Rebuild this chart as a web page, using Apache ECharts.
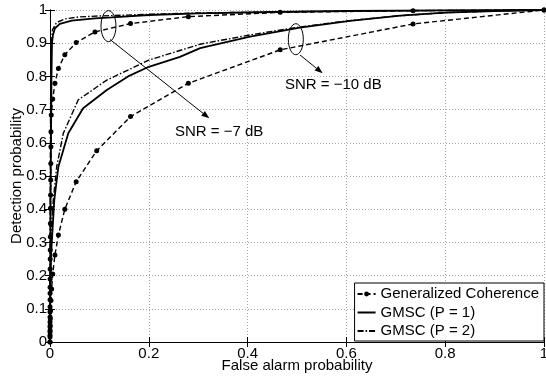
<!DOCTYPE html>
<html><head><meta charset="utf-8">
<script src="https://cdn.jsdelivr.net/npm/echarts@6/dist/echarts.min.js"></script>
<style>html,body{margin:0;padding:0;background:#fff}#c{width:546px;height:376px}</style>
</head><body><div id="c"></div><script>
// ---- data ----
const xTicks = [0, 0.2, 0.4, 0.6, 0.8, 1];
const yTicks = [0, 0.1, 0.2, 0.3, 0.4, 0.5, 0.6, 0.7, 0.8, 0.9, 1];
const seriesNames = ['Generalized Coherence', 'GMSC (P = 1)', 'GMSC (P = 2)'];

// SNR = -7 dB
const gc7 = [[0,0],[0,0.015],[0.00001,0.03],[0.00002,0.045],[0.00003,0.06],[0.00004,0.075],[0.00006,0.09],[0.00008,0.106],[0.0001,0.127],[0.00013,0.147],[0.00017,0.165],[0.00022,0.19],[0.0003,0.22],[0.0004,0.25],[0.0005,0.277],[0.0006,0.317],[0.0008,0.357],[0.001,0.403],[0.0012,0.443],[0.0014,0.488],[0.0016,0.538],[0.0018,0.588],[0.002,0.633],[0.0025,0.684],[0.0055,0.732],[0.010,0.779],[0.017,0.824],[0.030,0.865],[0.053,0.902],[0.091,0.934],[0.163,0.959],[0.28,0.980],[0.466,0.993],[0.735,0.998],[1,1]];
const gmsc1_7 = [[0,0],[0.0005,0.2],[0.001,0.4],[0.002,0.6],[0.003,0.8],[0.004,0.9],[0.006,0.925],[0.010,0.945],[0.02,0.958],[0.044,0.968],[0.091,0.975],[0.125,0.978],[0.2,0.985],[0.3,0.99],[0.45,0.994],[0.6,0.997],[0.8,0.999],[1,1]];
const gmsc2_7 = [[0,0],[0.0003,0.3],[0.0008,0.6],[0.0015,0.8],[0.003,0.9],[0.005,0.94],[0.013,0.962],[0.03,0.973],[0.057,0.979],[0.1,0.982],[0.2,0.987],[0.3,0.991],[0.45,0.994],[0.6,0.997],[0.8,0.999],[1,1]];

// SNR = -10 dB
const gc10 = [[0,0],[0.0001,0.02],[0.0002,0.035],[0.0004,0.05],[0.0007,0.07],[0.0012,0.095],[0.002,0.125],[0.0033,0.16],[0.0055,0.205],[0.010,0.262],[0.017,0.322],[0.030,0.400],[0.053,0.483],[0.0945,0.576],[0.163,0.679],[0.28,0.779],[0.466,0.880],[0.735,0.958],[1,1]];
const gmsc1_10 = [[0,0],[0.0005,0.1],[0.001,0.18],[0.002,0.257],[0.0047,0.327],[0.0087,0.428],[0.017,0.528],[0.037,0.629],[0.067,0.704],[0.115,0.759],[0.158,0.8],[0.2,0.829],[0.263,0.859],[0.304,0.885],[0.405,0.92],[0.506,0.947],[0.607,0.967],[0.709,0.983],[0.8,0.992],[0.9,0.997],[1,1]];
const gmsc2_10 = [[0,0],[0.0005,0.15],[0.002,0.327],[0.0067,0.428],[0.0135,0.528],[0.027,0.629],[0.057,0.729],[0.115,0.789],[0.2,0.849],[0.304,0.897],[0.405,0.925],[0.506,0.949],[0.607,0.968],[0.709,0.983],[0.8,0.992],[0.9,0.997],[1,1]];

// annotations: ellipse centre, arrow start, arrow tip, label anchor (data coords)
const annotations = [
  {label: 'SNR = \u22127 dB', center: [0.1184, 0.9515], from: [0.1215, 0.9111], to: [0.3225, 0.6738], text: [0.253, 0.634]},
  {label: 'SNR = \u221210 dB', center: [0.4976, 0.9120], from: [0.5061, 0.8645], to: [0.5520, 0.8093], text: [0.4757, 0.775]}
];

// ---- chart ----
const FONT = '"Liberation Sans", Arial, Helvetica, sans-serif';
const chart = echarts.init(document.getElementById('c'), null, {renderer: 'canvas'});
const fmt = v => (v === 0 ? '0' : v === 1 ? '1' : String(+v.toFixed(1)));

const gcStyle = {color: '#000', width: 1.4, type: [5, 3]};
const p1Style = {color: '#000', width: 1.8, type: 'solid'};
const p2Style = {color: '#000', width: 1.4, type: [6, 2, 1.5, 2]};

function mk(name, data, ls, dots) {
  return {
    name, type: 'line', data, xAxisIndex: 0, yAxisIndex: 0,
    symbol: dots ? 'circle' : 'none', symbolSize: 5, showSymbol: !!dots,
    itemStyle: {color: '#000'}, lineStyle: ls, animation: false, silent: true
  };
}

const commonAxisLine = {show: true, lineStyle: {color: '#000', width: 1}};
const option = {
  animation: false,
  backgroundColor: '#fff',
  grid: {left: 50, right: 2, top: 10, bottom: 34, outerBoundsMode: 'none'},
  xAxis: [
    {type: 'value', min: 0, max: 1, interval: 0.2, position: 'bottom',
     axisLine: commonAxisLine, axisTick: {show: true, inside: true, length: 5, lineStyle: {color: '#000'}},
     axisLabel: {color: '#000', fontSize: 15, fontFamily: FONT, margin: 4, formatter: fmt},
     splitLine: {show: true, lineStyle: {color: '#a8a8a8', type: [1, 2], width: 1}},
     name: 'False alarm probability', nameLocation: 'middle', nameGap: 16, nameMoveOverlap: false,
     nameTextStyle: {color: '#000', fontSize: 15, fontFamily: FONT}},
    {type: 'value', min: 0, max: 1, interval: 0.2, position: 'top',
     axisLine: commonAxisLine, axisTick: {show: true, inside: true, length: 5, lineStyle: {color: '#000'}},
     axisLabel: {show: false}, splitLine: {show: false}}
  ],
  yAxis: [
    {type: 'value', min: 0, max: 1, interval: 0.1, position: 'left',
     axisLine: commonAxisLine, axisTick: {show: true, inside: true, length: 5, lineStyle: {color: '#000'}},
     axisLabel: {color: '#000', fontSize: 15, fontFamily: FONT, margin: 3, formatter: fmt},
     splitLine: {show: true, lineStyle: {color: '#a8a8a8', type: [1, 2], width: 1}},
     name: 'Detection probability', nameLocation: 'middle', nameGap: 26, nameMoveOverlap: false,
     nameTextStyle: {color: '#000', fontSize: 15, fontFamily: FONT}},
    {type: 'value', min: 0, max: 1, interval: 0.1, position: 'right',
     axisLine: commonAxisLine, axisTick: {show: true, inside: true, length: 5, lineStyle: {color: '#000'}},
     axisLabel: {show: false}, splitLine: {show: false}}
  ],
  legend: {
    orient: 'vertical', right: 2, top: 283, padding: [3, 5, 2, 2], itemGap: 2.5,
    itemWidth: 18, itemHeight: 6, backgroundColor: '#fff', borderColor: '#000', borderWidth: 1,
    textStyle: {color: '#000', fontSize: 15, fontFamily: FONT, lineHeight: 16},
    data: [
      {name: seriesNames[0]},
      {name: seriesNames[1], itemStyle: {opacity: 0}},
      {name: seriesNames[2], itemStyle: {opacity: 0}}
    ],
    selectedMode: false
  },
  series: [
    mk(seriesNames[0], gc7, gcStyle, true),
    mk(seriesNames[1], gmsc1_7, p1Style, false),
    mk(seriesNames[2], gmsc2_7, p2Style, false),
    mk(seriesNames[0], gc10, gcStyle, true),
    mk(seriesNames[1], gmsc1_10, p1Style, false),
    mk(seriesNames[2], gmsc2_10, p2Style, false)
  ]
};
chart.setOption(option);

// annotations placed through the axes' scales
const toPx = p => chart.convertToPixel({xAxisIndex: 0, yAxisIndex: 0}, p);
const graphics = [];
annotations.forEach(a => {
  const c = toPx(a.center), f = toPx(a.from), t = toPx(a.to), tx = toPx(a.text);
  graphics.push({type: 'ellipse', shape: {cx: c[0], cy: c[1], rx: 7.5, ry: 15.5},
    style: {fill: 'none', stroke: '#000', lineWidth: 1}, z: 100, silent: true});
  const dx = t[0] - f[0], dy = t[1] - f[1], L = Math.hypot(dx, dy);
  const ux = dx / L, uy = dy / L, nx = -uy, ny = ux, AL = 8, AW = 3;
  const bx = t[0] - AL * ux, by = t[1] - AL * uy;
  graphics.push({type: 'line', shape: {x1: f[0], y1: f[1], x2: bx, y2: by},
    style: {stroke: '#000', lineWidth: 1}, z: 100, silent: true});
  graphics.push({type: 'polygon', shape: {points: [[t[0], t[1]], [bx + AW * nx, by + AW * ny], [bx - AW * nx, by - AW * ny]]},
    style: {fill: '#000'}, z: 100, silent: true});
  graphics.push({type: 'text', x: tx[0], y: tx[1],
    style: {text: a.label, fill: '#000', font: '15px ' + FONT, textAlign: 'left', textVerticalAlign: 'middle'},
    z: 100, silent: true});
});
chart.setOption({graphic: graphics});
</script></body></html>
